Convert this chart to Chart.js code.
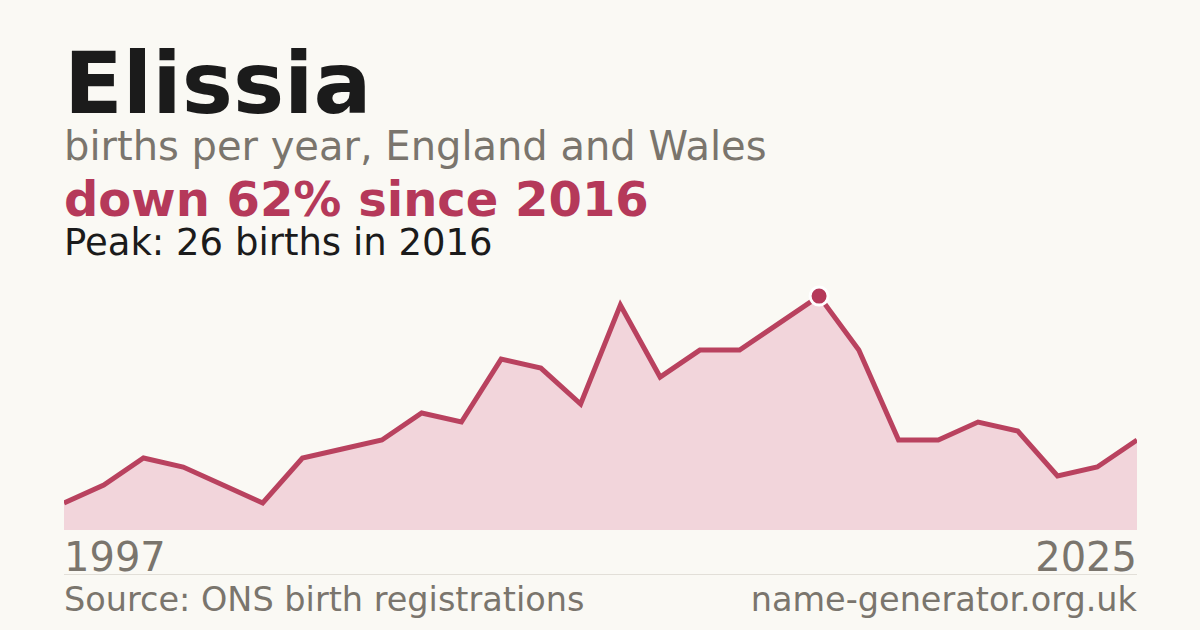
<!DOCTYPE html>
<html>
<head>
<meta charset="utf-8">
<script src="https://cdn.jsdelivr.net/npm/chart.js@4"></script>
<style>
  html, body { margin: 0; padding: 0; }
  body { width: 1200px; height: 630px; background: #faf9f4; position: relative; overflow: hidden;
         font-family: "DejaVu Sans", sans-serif; }
  .t { position: absolute; left: 64px; line-height: 1; white-space: nowrap; }
  #title { top: 40px; font-size: 86px; font-weight: bold; color: #1b1b1b; }
  #sub { top: 126px; font-size: 40px; color: #7a756d; }
  #change { top: 175px; font-size: 48px; font-weight: bold; color: #b5395a; }
  #peak { top: 224px; font-size: 37px; color: #1b1b1b; }
  .yr { position: absolute; top: 537px; font-size: 40px; line-height: 1; color: #7a756d; }
  #rule { position: absolute; left: 64px; width: 1073px; top: 574px; height: 1px; background: #e2dfd8; }
  .foot { position: absolute; top: 583px; font-size: 33.5px; line-height: 1; color: #7a756d; white-space: nowrap; }
  #wrap { position: absolute; left: 64px; top: 270px; width: 1073px; height: 260px; }
</style>
</head>
<body>
<div class="t" id="title">Elissia</div>
<div class="t" id="sub">births per year, England and Wales</div>
<div class="t" id="change">down 62% since 2016</div>
<div class="t" id="peak">Peak: 26 births in 2016</div>
<div id="wrap"><canvas id="chart"></canvas></div>
<div class="yr" id="yrFirst" style="left:64px"></div>
<div class="yr" id="yrLast" style="right:63px"></div>
<div id="rule"></div>
<div class="foot" style="left:64px">Source: ONS birth registrations</div>
<div class="foot" style="right:63px">name-generator.org.uk</div>
<script>
// years with a registration figure (one gap after the peak)
const years = [1997, 1998, 1999, 2000, 2001, 2002, 2003, 2004, 2005, 2006,
  2007, 2008, 2009, 2010, 2011, 2012, 2013, 2014, 2015, 2016,
  2017, 2018, 2019, 2021, 2022, 2023, 2024, 2025];
const births = [3, 5, 8, 7, 5, 3, 8, 9, 10, 13,
  12, 19, 18, 14, 25, 17, 20, 20, 23, 26,
  20, 10, 10, 12, 11, 6, 7, 10];

const peakIdx = births.indexOf(Math.max(...births));
document.getElementById('yrFirst').textContent = years[0];
document.getElementById('yrLast').textContent = years[years.length - 1];

new Chart(document.getElementById('chart'), {
  type: 'line',
  data: {
    labels: years.map(String),
    datasets: [{
      data: births,
      borderColor: '#b9425f',
      borderWidth: 5,
      backgroundColor: '#f2d5db',
      fill: 'origin',
      tension: 0,
      pointRadius: births.map((v, i) => i === peakIdx ? 9 : 0),
      pointBackgroundColor: '#b5395a',
      pointBorderColor: '#ffffff',
      pointBorderWidth: 3,
      clip: false
    }]
  },
  options: {
    responsive: true,
    maintainAspectRatio: false,
    animation: false,
    layout: { padding: 0 },
    plugins: { legend: { display: false }, tooltip: { enabled: false } },
    scales: {
      x: { display: false, offset: false },
      y: { display: false, min: 0, max: 28.9 }
    }
  }
});
</script>
</body>
</html>
